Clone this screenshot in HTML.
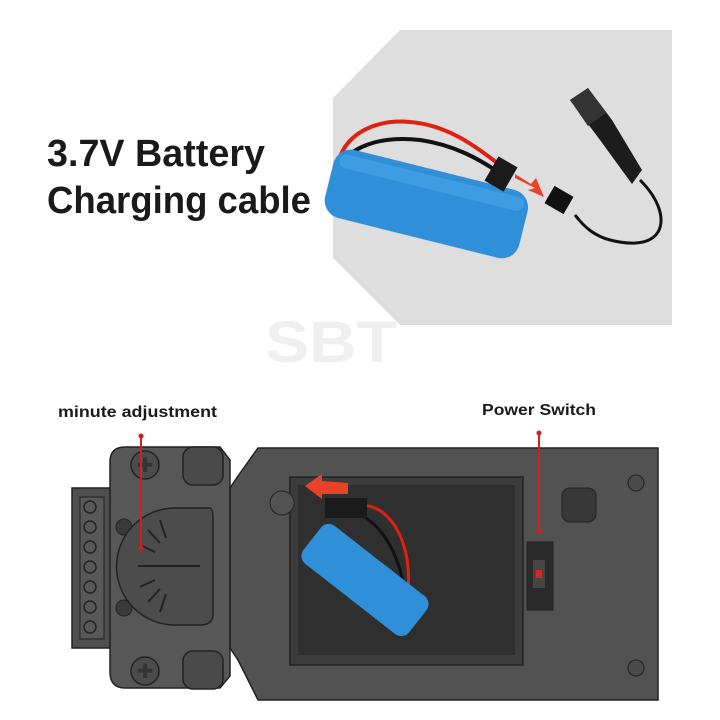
<!DOCTYPE html>
<html><head><meta charset="utf-8"><style>
html,body{margin:0;padding:0;background:#fff;}
svg{display:block}
</style></head><body>
<svg width="720" height="720" viewBox="0 0 720 720" xmlns="http://www.w3.org/2000/svg" font-family="Liberation Sans, sans-serif">
<rect width="720" height="720" fill="#fff"/>
<polygon points="400,30 672,30 672,325 400,325 333,258 333,98" fill="#dedede"/>
<text x="47" y="166" font-size="38" font-weight="bold" fill="#1a1a1a" textLength="218" lengthAdjust="spacingAndGlyphs">3.7V Battery</text>
<text x="47" y="213" font-size="38" font-weight="bold" fill="#1a1a1a" textLength="264" lengthAdjust="spacingAndGlyphs">Charging cable</text>
<text x="265" y="362" font-size="58" font-weight="bold" fill="#efefef" textLength="132" lengthAdjust="spacingAndGlyphs">SBT</text>
<path d="M338,175 C335,140 370,118 410,122 C450,125 480,150 500,165" stroke="#e02010" stroke-width="4" fill="none"/>
<path d="M336,178 C340,150 375,135 420,140 C455,145 480,160 495,170" stroke="#111" stroke-width="4" fill="none"/>
<g transform="rotate(14 430 210)">
<rect x="325" y="170" width="200" height="70" rx="18" fill="#2f8fd8"/>
<rect x="330" y="176" width="190" height="14" rx="7" fill="#4aa7ea" opacity="0.6"/>
</g>
<rect x="490" y="160" width="22" height="28" fill="#1a1a1a" transform="rotate(30 501 174)"/>
<path d="M515,178 L535,188 L528,190 L544,197 L536,178 L531,184 L515,174Z" fill="#e8432a"/>
<path d="M640,180 C660,200 665,220 658,232 C650,245 630,245 610,240 C595,236 585,228 575,215" stroke="#111" stroke-width="3" fill="none"/>
<polygon points="570,100 588,88 612,120 642,170 632,184 600,140" fill="#1c1c1c"/>
<polygon points="570,100 588,88 606,113 588,126" fill="#333"/>
<rect x="548" y="190" width="22" height="20" fill="#111" transform="rotate(30 559 200)"/>
<text x="58" y="417" font-size="16" font-weight="bold" fill="#1a1a1a" textLength="159" lengthAdjust="spacingAndGlyphs">minute adjustment</text>
<text x="482" y="415" font-size="16" font-weight="bold" fill="#1a1a1a" textLength="114" lengthAdjust="spacingAndGlyphs">Power Switch</text>
<rect x="72" y="488" width="40" height="160" fill="#4f4f4f" stroke="#222" stroke-width="1.5"/>
<rect x="80" y="497" width="24" height="142" fill="#585858" stroke="#222"/>
<g fill="none" stroke="#222" stroke-width="1.5">
<circle cx="90" cy="507" r="6"/><circle cx="90" cy="527" r="6"/><circle cx="90" cy="547" r="6"/><circle cx="90" cy="567" r="6"/><circle cx="90" cy="587" r="6"/><circle cx="90" cy="607" r="6"/><circle cx="90" cy="627" r="6"/>
</g>
<path d="M258,448 L658,448 L658,700 L258,700 L238,660 L230,648 L230,488 L238,476Z" fill="#525252" stroke="#222" stroke-width="1.5"/>
<path d="M110,462 Q110,447 125,447 L220,447 L230,460 L230,676 L220,688 L125,688 Q110,688 110,672Z" fill="#575757" stroke="#222" stroke-width="1.5"/>
<rect x="183" y="447" width="40" height="38" rx="10" fill="#4a4a4a" stroke="#222" stroke-width="1.5"/>
<rect x="183" y="651" width="40" height="38" rx="10" fill="#4a4a4a" stroke="#222" stroke-width="1.5"/>
<circle cx="145" cy="465" r="14" fill="#4c4c4c" stroke="#222" stroke-width="1.5"/>
<circle cx="145" cy="671" r="14" fill="#4c4c4c" stroke="#222" stroke-width="1.5"/>
<text x="145" y="472" font-size="20" text-anchor="middle" fill="#333">✚</text>
<text x="145" y="678" font-size="20" text-anchor="middle" fill="#333">✚</text>
<circle cx="124" cy="527" r="8" fill="#3a3a3a" stroke="#222"/>
<circle cx="124" cy="608" r="8" fill="#3a3a3a" stroke="#222"/>
<path d="M175,508 L210,508 Q213,508 213,520 L213,614 Q213,625 200,625 L175,625 A58,58 0 0 1 175,508Z" fill="#4c4c4c" stroke="#222" stroke-width="1.5"/>
<g stroke="#222" stroke-width="2">
<line x1="138" y1="566" x2="200" y2="566"/>
<line x1="140" y1="545" x2="155" y2="552"/><line x1="148" y1="530" x2="160" y2="543"/><line x1="160" y1="520" x2="166" y2="538"/>
<line x1="140" y1="587" x2="155" y2="580"/><line x1="148" y1="602" x2="160" y2="589"/><line x1="160" y1="612" x2="166" y2="594"/>
</g>
<rect x="290" y="477" width="233" height="188" fill="#3c3c3c" stroke="#222" stroke-width="1.5"/>
<rect x="298" y="485" width="217" height="170" fill="#2f2f2f"/>
<circle cx="282" cy="503" r="12" fill="#525252" stroke="#222"/>
<rect x="527" y="542" width="26" height="68" fill="#2a2a2a" stroke="#222"/>
<rect x="533" y="560" width="12" height="28" fill="#444"/>
<rect x="536" y="570" width="6" height="8" fill="#e02020"/>
<rect x="562" y="488" width="34" height="34" rx="8" fill="#383838" stroke="#222"/>
<circle cx="636" cy="483" r="8" fill="#4a4a4a" stroke="#222"/>
<circle cx="636" cy="668" r="8" fill="#4a4a4a" stroke="#222"/>
<path d="M360,505 C395,505 412,550 408,590" stroke="#e02010" stroke-width="3" fill="none"/>
<path d="M350,510 C380,520 398,550 405,592" stroke="#111" stroke-width="3" fill="none"/>
<rect x="325" y="498" width="42" height="20" fill="#1a1a1a"/>
<g transform="rotate(38 365 580)">
<rect x="298" y="556" width="134" height="48" rx="10" fill="#2f8fd8"/>
</g>
<path d="M305,486 L322,474 L322,481 L348,483 L348,494 L322,494 L322,499Z" fill="#e8432a"/>
<line x1="141" y1="436" x2="141" y2="548" stroke="#d41f1f" stroke-width="2"/>
<circle cx="141" cy="436" r="2.5" fill="#d41f1f"/><circle cx="141" cy="548" r="2.5" fill="#d41f1f"/>
<line x1="539" y1="433" x2="539" y2="531" stroke="#d41f1f" stroke-width="2"/>
<circle cx="539" cy="433" r="2.5" fill="#d41f1f"/><circle cx="539" cy="531" r="2.5" fill="#d41f1f"/>
</svg>
</body></html>
